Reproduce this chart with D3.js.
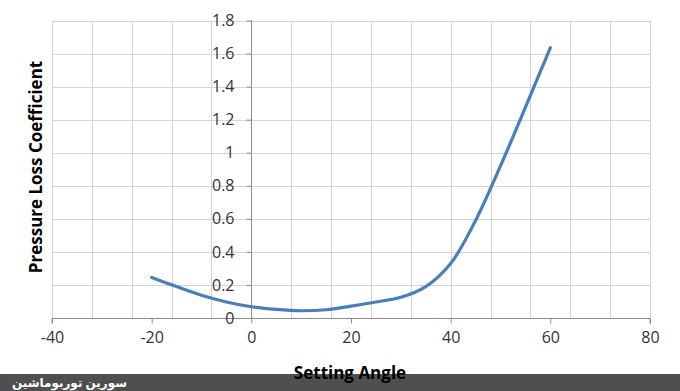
<!DOCTYPE html>
<html>
<head>
<meta charset="utf-8">
<script src="https://cdn.jsdelivr.net/npm/d3@7"></script>
<style>
  html, body { margin: 0; padding: 0; background: #fff; }
  svg { display: block; }
</style>
</head>
<body>
<svg id="chart" width="680" height="391"></svg>
<script>
// ---- data ----
const settingAngle = [-20, -15, -10, -5, 0, 5, 10, 15, 20, 25, 30, 35, 40, 45, 50, 55, 60];
const lossCoefficient = [0.245, 0.19, 0.138, 0.097, 0.068, 0.052, 0.044, 0.05, 0.072, 0.097, 0.125, 0.19, 0.33, 0.59, 0.92, 1.275, 1.635];
const xTickValues = [-40, -20, 0, 20, 40, 60, 80];
const xGridValues = [-40, -32, -24, -16, -8, 0, 8, 16, 24, 32, 40, 48, 56, 64, 72, 80];
const yTickValues = [0, 0.2, 0.4, 0.6, 0.8, 1, 1.2, 1.4, 1.6, 1.8];
const xTitle = "Setting Angle";
const yTitle = "Pressure Loss Coefficient";
const watermark = "سورین توربوماشین";

// ---- layout ----
const svg = d3.select("#chart");
const plot = { left: 52, right: 650, top: 20.5, bottom: 318 };

const x = d3.scaleLinear().domain([-40, 80]).range([plot.left, plot.right]);
const y = d3.scaleLinear().domain([0, 1.8]).range([plot.bottom, plot.top]);

const font = "'Open Sans', 'Noto Sans', sans-serif";

// gridlines
svg.append("g").selectAll("line.vg").data(xGridValues).join("line")
  .attr("x1", d => Math.round(x(d)) + 0.5).attr("x2", d => Math.round(x(d)) + 0.5)
  .attr("y1", plot.top).attr("y2", plot.bottom)
  .attr("stroke", "#d4d4d4").attr("stroke-width", 1);
svg.append("g").selectAll("line.hg").data(yTickValues).join("line")
  .attr("x1", plot.left).attr("x2", plot.right)
  .attr("y1", d => Math.round(y(d)) + 0.5).attr("y2", d => Math.round(y(d)) + 0.5)
  .attr("stroke", "#d4d4d4").attr("stroke-width", 1);

// x axis (at y=0)
const xAxis = d3.axisBottom(x).tickValues(xTickValues).tickSize(5).tickPadding(8)
  .tickFormat(d => String(d));
const gx = svg.append("g").attr("transform", `translate(0,${Math.round(y(0)) + 0.5})`).call(xAxis);
gx.select(".domain").attr("stroke", "#8c8c8c").attr("d", `M${plot.left},5V0H${plot.right}V5`);
gx.selectAll(".tick line").attr("stroke", "#8c8c8c");
gx.selectAll(".tick text").attr("font-family", font).attr("font-size", 16).attr("fill", "#333");

// y axis (at x=0)
const yAxis = d3.axisLeft(y).tickValues(yTickValues).tickSize(5).tickPadding(12)
  .tickFormat(d => String(+d.toFixed(1)));
const gy = svg.append("g").attr("transform", `translate(${Math.round(x(0)) + 0.5},0)`).call(yAxis);
gy.select(".domain").attr("stroke", "#8c8c8c").attr("d", `M0,${plot.top}V${plot.bottom}`);
gy.selectAll(".tick line").attr("stroke", "#8c8c8c");
gy.selectAll(".tick text").attr("font-family", font).attr("font-size", 16).attr("fill", "#333");

// curve
const pts = settingAngle.map((a, i) => [a, lossCoefficient[i]]);
const line = d3.line().x(d => x(d[0])).y(d => y(d[1])).curve(d3.curveCatmullRom.alpha(0.5));
svg.append("path").datum(pts)
  .attr("d", line).attr("fill", "none")
  .attr("stroke", "#4a7ebb").attr("stroke-width", 3.2).attr("stroke-linecap", "round");

// bottom watermark bar
svg.append("rect").attr("x", 0).attr("y", 374).attr("width", 680).attr("height", 17).attr("fill", "#4f4f4f");
svg.append("text").attr("x", 12).attr("y", 387)
  .attr("font-family", "'Noto Sans', 'DejaVu Sans', sans-serif").attr("font-weight", "bold")
  .attr("font-size", 12).attr("fill", "#fff").attr("direction", "rtl").attr("text-anchor", "end")
  .text(watermark);

// axis titles
svg.append("text").attr("x", 350).attr("y", 379).attr("text-anchor", "middle")
  .attr("font-family", font).attr("font-weight", "bold").attr("font-size", 17).attr("fill", "#000")
  .text(xTitle);
svg.append("text").attr("transform", "translate(42,167) rotate(-90)").attr("text-anchor", "middle")
  .attr("font-family", font).attr("font-weight", "bold").attr("font-size", 17).attr("fill", "#000")
  .text(yTitle);
</script>
</body>
</html>
